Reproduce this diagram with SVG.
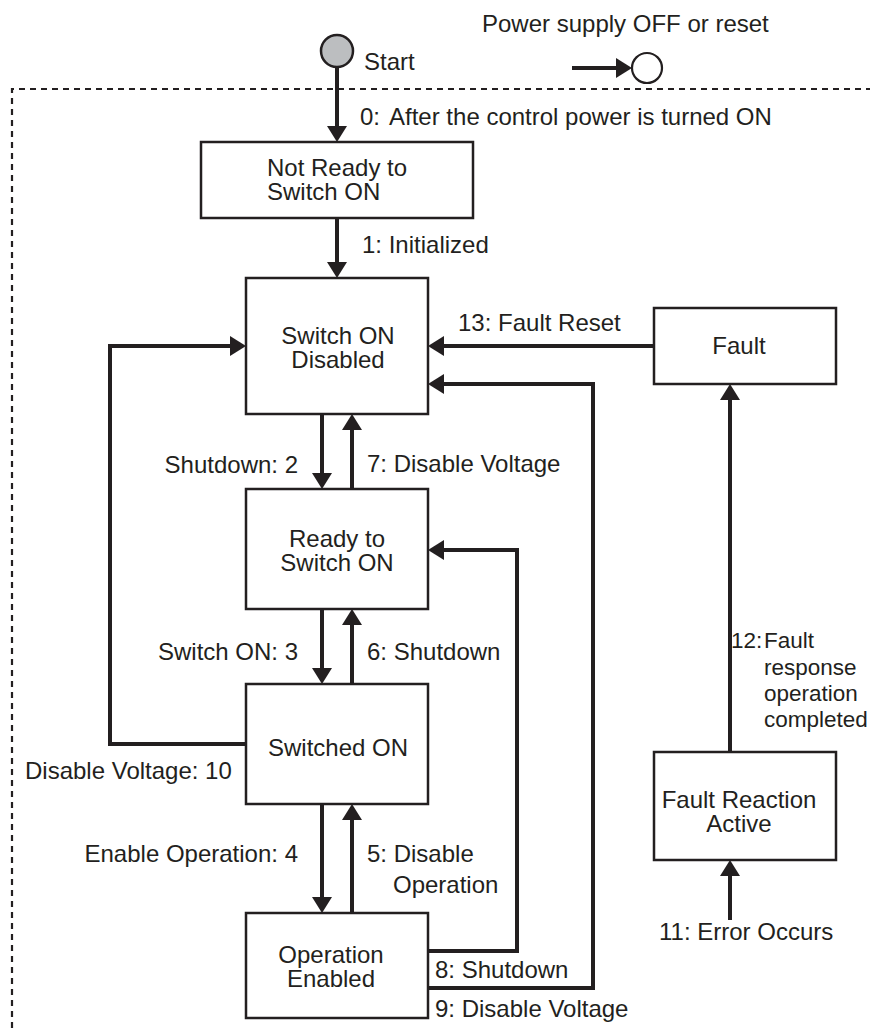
<svg xmlns="http://www.w3.org/2000/svg" width="870" height="1028" viewBox="0 0 870 1028">
<style>
text{font-family:"Liberation Sans",Arial,sans-serif;font-size:24px;fill:#231f20}
.s{font-size:22.5px}
.box{fill:#fff;stroke:#231f20;stroke-width:2.5}
.ln{fill:none;stroke:#231f20;stroke-width:4}
.c{text-anchor:middle}
.e{text-anchor:end}
</style>
<defs>
<marker id="ah" markerUnits="userSpaceOnUse" markerWidth="16" markerHeight="20" refX="0" refY="10" orient="auto">
<path d="M0,0 L16,10 L0,20 z" fill="#231f20"/>
</marker>
</defs>
<rect width="870" height="1028" fill="#fff"/>
<path d="M12,1028 V89 H870" fill="none" stroke="#231f20" stroke-width="2.2" stroke-dasharray="6,5"/>
<g id="legend">
<text x="482" y="32">Power supply OFF or reset</text>
<line x1="572" y1="68" x2="616" y2="68" class="ln" marker-end="url(#ah)"/>
<circle cx="647" cy="68" r="15" fill="#fff" stroke="#231f20" stroke-width="2.2"/>
</g>
<g id="start">
<circle cx="337" cy="51" r="16" fill="#bcbec0" stroke="#231f20" stroke-width="2.5"/>
<text x="364" y="70">Start</text>
</g>
<g id="connectors">
<line x1="337" y1="67" x2="337" y2="126" class="ln" marker-end="url(#ah)"/>
<line x1="337" y1="218" x2="337" y2="262" class="ln" marker-end="url(#ah)"/>
<line x1="322" y1="414" x2="322" y2="473" class="ln" marker-end="url(#ah)"/>
<line x1="352" y1="489" x2="352" y2="430" class="ln" marker-end="url(#ah)"/>
<line x1="322" y1="609" x2="322" y2="668" class="ln" marker-end="url(#ah)"/>
<line x1="352" y1="684" x2="352" y2="625" class="ln" marker-end="url(#ah)"/>
<line x1="322" y1="804" x2="322" y2="897" class="ln" marker-end="url(#ah)"/>
<line x1="352" y1="913" x2="352" y2="820" class="ln" marker-end="url(#ah)"/>
<path d="M246,744 H110 V346 H230" class="ln" marker-end="url(#ah)"/>
<path d="M428,951 H517 V550 H444" class="ln" marker-end="url(#ah)"/>
<path d="M428,988 H593 V384 H444" class="ln" marker-end="url(#ah)"/>
<line x1="654" y1="346" x2="444" y2="346" class="ln" marker-end="url(#ah)"/>
<line x1="730" y1="752" x2="730" y2="400" class="ln" marker-end="url(#ah)"/>
<line x1="730" y1="920" x2="730" y2="876" class="ln" marker-end="url(#ah)"/>
<text x="360" y="125">0:<tspan dx="9">After the control power is turned ON</tspan></text>
<text x="362" y="253">1: Initialized</text>
<text x="298" y="473" class="e">Shutdown: 2</text>
<text x="367" y="472">7: Disable Voltage</text>
<text x="298" y="660" class="e">Switch ON: 3</text>
<text x="367" y="660">6: Shutdown</text>
<text x="25" y="779">Disable Voltage: 10</text>
<text x="298" y="862" class="e">Enable Operation: 4</text>
<text x="367" y="862">5: Disable<tspan x="393" y="893">Operation</tspan></text>
<text x="435" y="978">8: Shutdown</text>
<text x="435" y="1017">9: Disable Voltage</text>
<text x="458" y="331">13: Fault Reset</text>
<text x="731" y="648" class="s">12:<tspan x="764">Fault</tspan><tspan x="764" y="675">response</tspan><tspan x="764" y="701">operation</tspan><tspan x="764" y="727">completed</tspan></text>
<text x="659" y="940">11: Error Occurs</text>
</g>
<g id="not-ready">
<rect x="201" y="142" width="272" height="76" class="box"/>
<text x="267" y="176">Not Ready to<tspan x="267" y="200">Switch ON</tspan></text>
</g>
<g id="switch-on-disabled">
<rect x="246" y="278" width="182" height="136" class="box"/>
<text x="338" y="344" class="c">Switch ON<tspan x="338" y="368">Disabled</tspan></text>
</g>
<g id="ready-to-switch-on">
<rect x="246" y="489" width="182" height="120" class="box"/>
<text x="337" y="547" class="c">Ready to<tspan x="337" y="571">Switch ON</tspan></text>
</g>
<g id="switched-on">
<rect x="246" y="684" width="182" height="120" class="box"/>
<text x="338" y="756" class="c">Switched ON</text>
</g>
<g id="operation-enabled">
<rect x="246" y="913" width="182" height="105" class="box"/>
<text x="331" y="963" class="c">Operation<tspan x="331" y="987">Enabled</tspan></text>
</g>
<g id="fault">
<rect x="654" y="308" width="182" height="76" class="box"/>
<text x="739" y="354" class="c">Fault</text>
</g>
<g id="fault-reaction-active">
<rect x="654" y="752" width="182" height="108" class="box"/>
<text x="739" y="808" class="c">Fault Reaction<tspan x="739" y="832">Active</tspan></text>
</g>
</svg>
